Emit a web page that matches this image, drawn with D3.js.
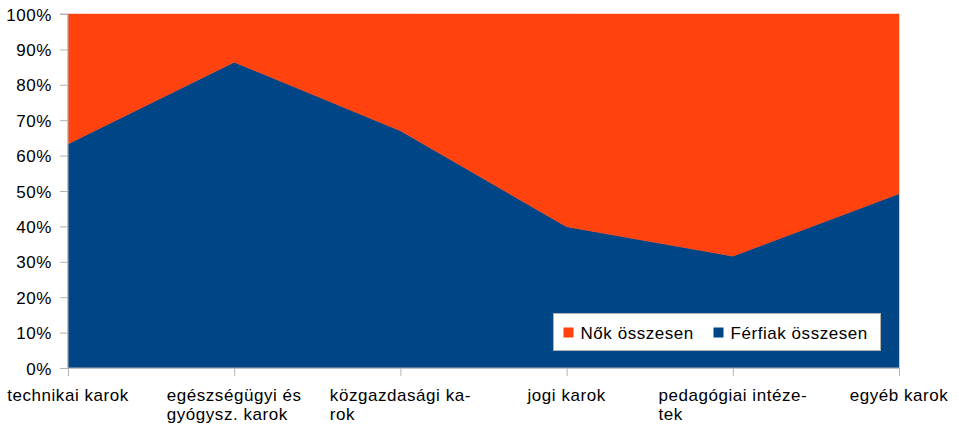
<!DOCTYPE html>
<html>
<head>
<meta charset="utf-8">
<script src="https://cdn.jsdelivr.net/npm/d3@7"></script>
<style>
  html, body { margin: 0; padding: 0; background: #ffffff; }
  svg text { font-family: "Liberation Sans", Arial, sans-serif; font-size: 17px; fill: #000; letter-spacing: 0.55px; }
</style>
</head>
<body>
<svg id="chart" width="959" height="424"></svg>
<script>
// Faculty groups (x axis)
const categories = [
  "technikai karok",
  "egészségügyi és gyógysz. karok",
  "közgazdasági karok",
  "jogi karok",
  "pedagógiai intézetek",
  "egyéb karok"
];
// Wrapped label lines as typeset under the axis
const categoryLines = [
  ["technikai karok"],
  ["egészségügyi és", "gyógysz. karok"],
  ["közgazdasági ka-", "rok"],
  ["jogi karok"],
  ["pedagógiai intéze-", "tek"],
  ["egyéb karok"]
];
// Share of students (%)
const ferfiak = [63.3, 86.4, 67.0, 39.9, 31.6, 49.2];
const nok     = [36.7, 13.6, 33.0, 60.1, 68.4, 50.8];
const seriesNames = ["Férfiak összesen", "Nők összesen"];
const yTicks = [0, 10, 20, 30, 40, 50, 60, 70, 80, 90, 100];

const colors = { "Férfiak összesen": "#004586", "Nők összesen": "#ff420e" };

const margin = { left: 68, right: 60, top: 14, bottom: 56 };
const W = 959, H = 424;
const svg = d3.select("#chart");

const x = d3.scalePoint().domain(categories).range([margin.left, W - margin.right]);
const y = d3.scaleLinear().domain([0, 1]).range([H - margin.bottom, margin.top]);

const rows = categories.map((c, i) => ({ cat: c, "Férfiak összesen": ferfiak[i], "Nők összesen": nok[i] }));
const stacked = d3.stack().keys(seriesNames).offset(d3.stackOffsetExpand)(rows);

const area = d3.area()
  .x(d => x(d.data.cat))
  .y0(d => y(d[0]))
  .y1(d => y(d[1]));

svg.append("g").selectAll("path")
  .data(stacked)
  .join("path")
  .attr("d", area)
  .attr("fill", d => colors[d.key])
  .attr("stroke", d => colors[d.key])
  .attr("stroke-width", 0.5);

// Y axis
const yAxis = d3.axisLeft(y)
  .tickValues(yTicks.map(t => t / 100))
  .tickFormat(d => Math.round(d * 100) + "%")
  .tickSize(8)
  .tickPadding(8);
const gy = svg.append("g").attr("transform", `translate(${margin.left},0)`).call(yAxis);
gy.select(".domain").attr("stroke", "#b3b3b3").attr("d", `M-8,${y(1)}H0V${y(0)}`);
gy.selectAll(".tick line").attr("stroke", "#b3b3b3");
gy.selectAll(".tick text").attr("font-family", null).attr("font-size", null).attr("dy", "0.36em");

// X axis
const xAxis = d3.axisBottom(x).tickSize(8).tickFormat("");
const gx = svg.append("g").attr("transform", `translate(0,${y(0)})`).call(xAxis);
gx.select(".domain").attr("stroke", "#b3b3b3").attr("d", `M${x.range()[0]},0H${x.range()[1]}`);
gx.selectAll(".tick line").attr("stroke", "#b3b3b3");

// Category labels: block centred on tick, lines left-aligned
const labels = svg.append("g");
categories.forEach((c, i) => {
  const t = labels.append("text").attr("y", y(0) + 33);
  categoryLines[i].forEach((ln, j) => {
    t.append("tspan").attr("x", 0).attr("dy", j === 0 ? 0 : 19).text(ln);
  });
  const w = d3.max(t.selectAll("tspan").nodes(), n => n.getComputedTextLength());
  t.selectAll("tspan").attr("x", x(c) - w / 2);
});

// Legend
const legend = svg.append("g").attr("transform", "translate(553.5,313.5)");
legend.append("rect").attr("width", 327).attr("height", 37)
  .attr("fill", "#fff").attr("stroke", "#b3b3b3");
const legendItems = [
  { name: "Nők összesen", dx: 10 },
  { name: "Férfiak összesen", dx: 160 }
];
legendItems.forEach(it => {
  legend.append("rect").attr("x", it.dx).attr("y", 14).attr("width", 10).attr("height", 10)
    .attr("fill", colors[it.name]);
  legend.append("text").attr("x", it.dx + 17).attr("y", 25).text(it.name);
});
</script>
</body>
</html>
